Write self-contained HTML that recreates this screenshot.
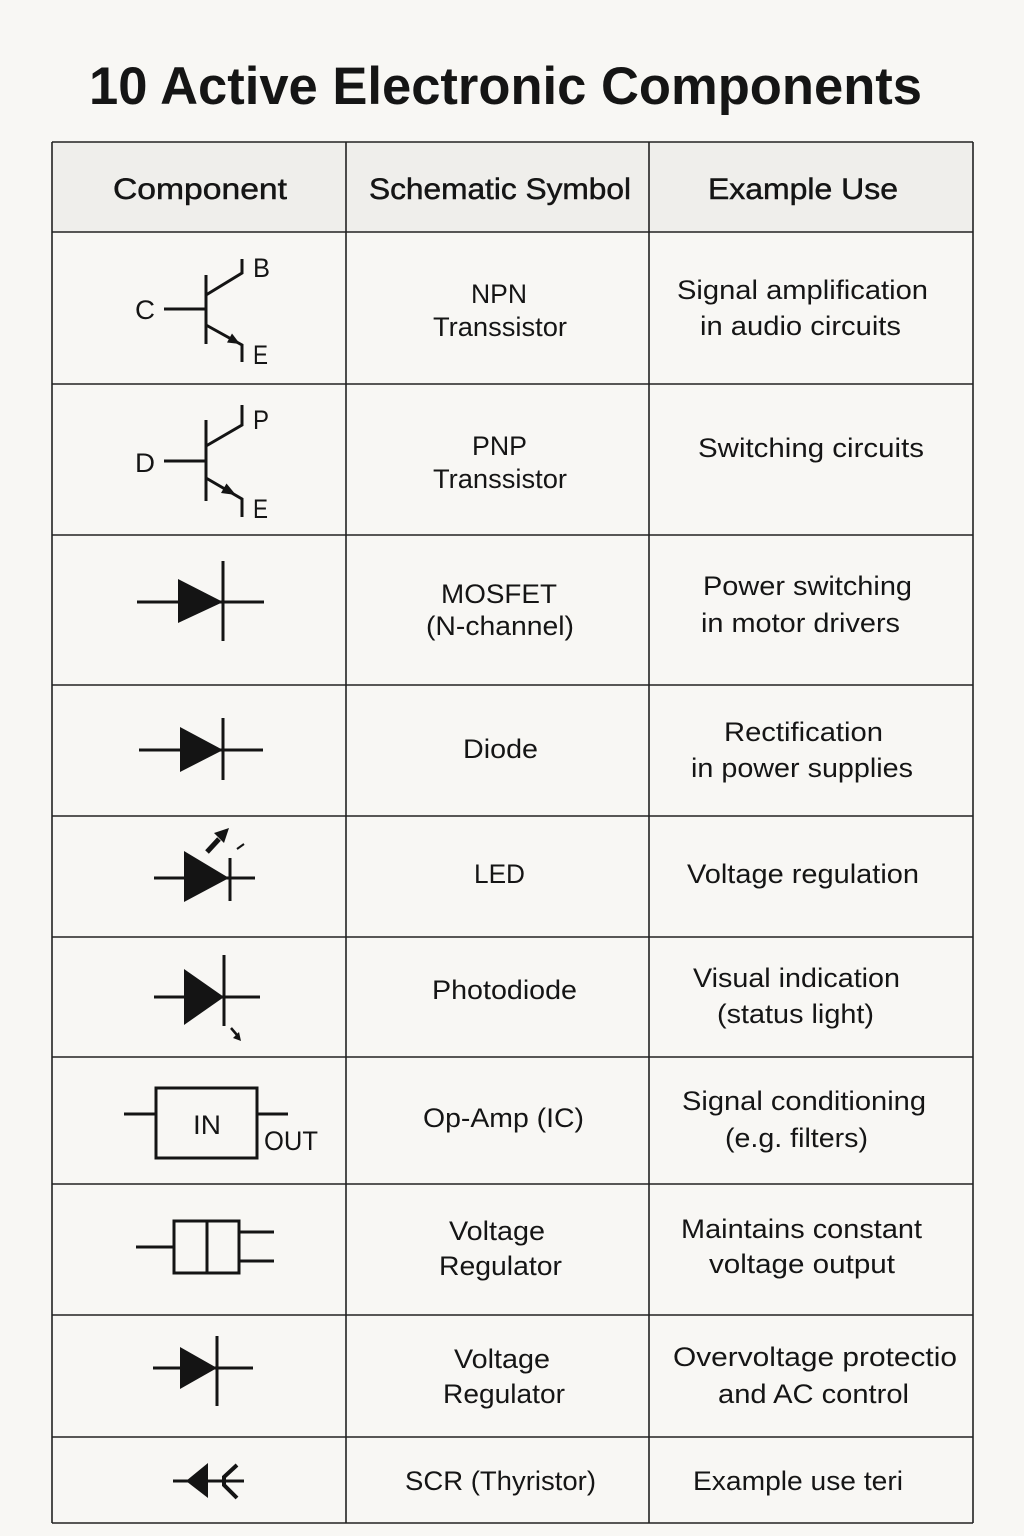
<!DOCTYPE html>
<html>
<head>
<meta charset="utf-8">
<style>
html,body{margin:0;padding:0;background:#f8f7f4;}
svg{display:block;}
text{font-family:"Liberation Sans",sans-serif;fill:#151515;}
</style>
</head>
<body>
<svg width="1024" height="1536" viewBox="0 0 1024 1536" xmlns="http://www.w3.org/2000/svg">
<rect x="0" y="0" width="1024" height="1536" fill="#f8f7f4"/>
<!-- Title -->
<text x="89" y="104" font-size="53" font-weight="bold" textLength="833" lengthAdjust="spacingAndGlyphs">10 Active Electronic Components</text>

<!-- header background -->
<rect x="52" y="142" width="921" height="90" fill="#efeeeb"/>

<!-- table lines -->
<g stroke="#222" stroke-width="1.6" fill="none">
<line x1="52" y1="142" x2="973" y2="142"/>
<line x1="52" y1="232" x2="973" y2="232"/>
<line x1="52" y1="384" x2="973" y2="384"/>
<line x1="52" y1="535" x2="973" y2="535"/>
<line x1="52" y1="685" x2="973" y2="685"/>
<line x1="52" y1="816" x2="973" y2="816"/>
<line x1="52" y1="937" x2="973" y2="937"/>
<line x1="52" y1="1057" x2="973" y2="1057"/>
<line x1="52" y1="1184" x2="973" y2="1184"/>
<line x1="52" y1="1315" x2="973" y2="1315"/>
<line x1="52" y1="1437" x2="973" y2="1437"/>
<line x1="52" y1="1523" x2="973" y2="1523"/>
<line x1="52" y1="142" x2="52" y2="1523"/>
<line x1="346" y1="142" x2="346" y2="1523"/>
<line x1="649" y1="142" x2="649" y2="1523"/>
<line x1="973" y1="142" x2="973" y2="1523"/>
</g>

<!-- header text -->
<g font-size="30" stroke="#151515" stroke-width="0.5">
<text x="113" y="199" textLength="174" lengthAdjust="spacingAndGlyphs">Component</text>
<text x="369" y="199" textLength="262" lengthAdjust="spacingAndGlyphs">Schematic Symbol</text>
<text x="708" y="199" textLength="190" lengthAdjust="spacingAndGlyphs">Example Use</text>
</g>

<!-- body text column 2 -->
<g font-size="27">
<text x="471" y="303" textLength="56" lengthAdjust="spacingAndGlyphs">NPN</text>
<text x="433" y="336" textLength="134" lengthAdjust="spacingAndGlyphs">Transsistor</text>
<text x="472" y="455" textLength="55" lengthAdjust="spacingAndGlyphs">PNP</text>
<text x="433" y="488" textLength="134" lengthAdjust="spacingAndGlyphs">Transsistor</text>
<text x="441" y="603" textLength="116" lengthAdjust="spacingAndGlyphs">MOSFET</text>
<text x="426" y="635" textLength="148" lengthAdjust="spacingAndGlyphs">(N-channel)</text>
<text x="463" y="758" textLength="75" lengthAdjust="spacingAndGlyphs">Diode</text>
<text x="474" y="883" textLength="51" lengthAdjust="spacingAndGlyphs">LED</text>
<text x="432" y="999" textLength="145" lengthAdjust="spacingAndGlyphs">Photodiode</text>
<text x="423" y="1127" textLength="161" lengthAdjust="spacingAndGlyphs">Op-Amp (IC)</text>
<text x="449" y="1240" textLength="96" lengthAdjust="spacingAndGlyphs">Voltage</text>
<text x="439" y="1275" textLength="123" lengthAdjust="spacingAndGlyphs">Regulator</text>
<text x="454" y="1368" textLength="96" lengthAdjust="spacingAndGlyphs">Voltage</text>
<text x="443" y="1403" textLength="122" lengthAdjust="spacingAndGlyphs">Regulator</text>
<text x="405" y="1490" textLength="191" lengthAdjust="spacingAndGlyphs">SCR (Thyristor)</text>
</g>

<!-- body text column 3 -->
<g font-size="27">
<text x="677" y="299" textLength="251" lengthAdjust="spacingAndGlyphs">Signal amplification</text>
<text x="700" y="335" textLength="201" lengthAdjust="spacingAndGlyphs">in audio circuits</text>
<text x="698" y="457" textLength="226" lengthAdjust="spacingAndGlyphs">Switching circuits</text>
<text x="703" y="595" textLength="209" lengthAdjust="spacingAndGlyphs">Power switching</text>
<text x="701" y="632" textLength="199" lengthAdjust="spacingAndGlyphs">in motor drivers</text>
<text x="724" y="741" textLength="159" lengthAdjust="spacingAndGlyphs">Rectification</text>
<text x="691" y="777" textLength="222" lengthAdjust="spacingAndGlyphs">in power supplies</text>
<text x="687" y="883" textLength="232" lengthAdjust="spacingAndGlyphs">Voltage regulation</text>
<text x="693" y="987" textLength="207" lengthAdjust="spacingAndGlyphs">Visual indication</text>
<text x="717" y="1023" textLength="157" lengthAdjust="spacingAndGlyphs">(status light)</text>
<text x="682" y="1110" textLength="244" lengthAdjust="spacingAndGlyphs">Signal conditioning</text>
<text x="725" y="1147" textLength="143" lengthAdjust="spacingAndGlyphs">(e.g. filters)</text>
<text x="681" y="1238" textLength="241" lengthAdjust="spacingAndGlyphs">Maintains constant</text>
<text x="709" y="1273" textLength="186" lengthAdjust="spacingAndGlyphs">voltage output</text>
<text x="673" y="1366" textLength="284" lengthAdjust="spacingAndGlyphs">Overvoltage protectio</text>
<text x="718" y="1403" textLength="191" lengthAdjust="spacingAndGlyphs">and AC control</text>
<text x="693" y="1490" textLength="210" lengthAdjust="spacingAndGlyphs">Example use teri</text>
</g>

<!-- symbols -->
<g stroke="#141414" stroke-width="3" fill="none" stroke-linecap="butt">
<!-- NPN -->
<line x1="206" y1="275" x2="206" y2="344"/>
<line x1="164" y1="309" x2="206" y2="309"/>
<polyline points="206,295 242,273 242,259"/>
<polyline points="206,325 242,345 242,362"/>
<!-- PNP -->
<line x1="206" y1="420" x2="206" y2="501"/>
<line x1="164" y1="461" x2="206" y2="461"/>
<polyline points="206,446 242,425 242,405"/>
<polyline points="206,478 242,499 242,517"/>
<!-- MOSFET row (diode-like) -->
<line x1="137" y1="602" x2="264" y2="602"/>
<line x1="223" y1="561" x2="223" y2="641"/>
<!-- Diode -->
<line x1="139" y1="750" x2="263" y2="750"/>
<line x1="223" y1="718" x2="223" y2="780"/>
<!-- LED -->
<line x1="154" y1="878" x2="255" y2="878"/>
<line x1="230" y1="858" x2="230" y2="901"/>
<line x1="207" y1="852" x2="219" y2="839" stroke-width="5"/>
<line x1="237" y1="849" x2="244" y2="844" stroke-width="2"/>
<!-- Photodiode -->
<line x1="154" y1="997" x2="260" y2="997"/>
<line x1="224" y1="955" x2="224" y2="1026"/>
<line x1="231" y1="1028" x2="237" y2="1035" stroke-width="2.5"/>
<!-- Op-amp -->
<rect x="156" y="1088" width="101" height="70"/>
<line x1="124" y1="1114" x2="156" y2="1114"/>
<line x1="257" y1="1114" x2="288" y2="1114"/>
<!-- Regulator -->
<rect x="174" y="1221" width="65" height="52"/>
<line x1="207" y1="1221" x2="207" y2="1273"/>
<line x1="136" y1="1247" x2="174" y2="1247"/>
<line x1="239" y1="1232" x2="274" y2="1232"/>
<line x1="239" y1="1261" x2="274" y2="1261"/>
<!-- Row 9 -->
<line x1="153" y1="1368" x2="253" y2="1368"/>
<line x1="217" y1="1336" x2="217" y2="1406"/>
<!-- SCR -->
<line x1="173" y1="1481" x2="244" y2="1481"/>
<path d="M237 1465 L224 1477 L224 1485 L237 1498" stroke-width="4"/>
</g>

<g fill="#141414" stroke="none">
<!-- NPN arrow -->
<polygon points="240,344 227,342.5 232,333.5"/>
<!-- PNP arrow -->
<polygon points="236,495 221,493 226.5,483.5"/>
<!-- diode triangles -->
<polygon points="178,579 178,623 223,602"/>
<polygon points="180,727 180,772 223,750"/>
<polygon points="184,851 184,902 229,878"/>
<polygon points="184,969 184,1025 224,997"/>
<polygon points="180,1347 180,1389 217,1368"/>
<!-- SCR left triangle -->
<polygon points="186,1481 208,1463 208,1498"/>
<!-- LED arrowhead -->
<polygon points="229,828 214,833 224,843"/>
<!-- photodiode arrowhead -->
<polygon points="241,1041 233,1038 239,1032"/>
</g>

<!-- symbol labels -->
<g font-size="27">
<text x="135" y="319" textLength="20" lengthAdjust="spacingAndGlyphs">C</text>
<text x="253" y="277" textLength="17" lengthAdjust="spacingAndGlyphs">B</text>
<text x="253" y="364" textLength="15" lengthAdjust="spacingAndGlyphs">E</text>
<text x="135" y="472" textLength="20" lengthAdjust="spacingAndGlyphs">D</text>
<text x="253" y="429" textLength="16" lengthAdjust="spacingAndGlyphs">P</text>
<text x="253" y="518" textLength="15" lengthAdjust="spacingAndGlyphs">E</text>
<text x="193" y="1134" textLength="28" lengthAdjust="spacingAndGlyphs">IN</text>
<text x="264" y="1150" textLength="54" lengthAdjust="spacingAndGlyphs">OUT</text>
</g>
</svg>
</body>
</html>
